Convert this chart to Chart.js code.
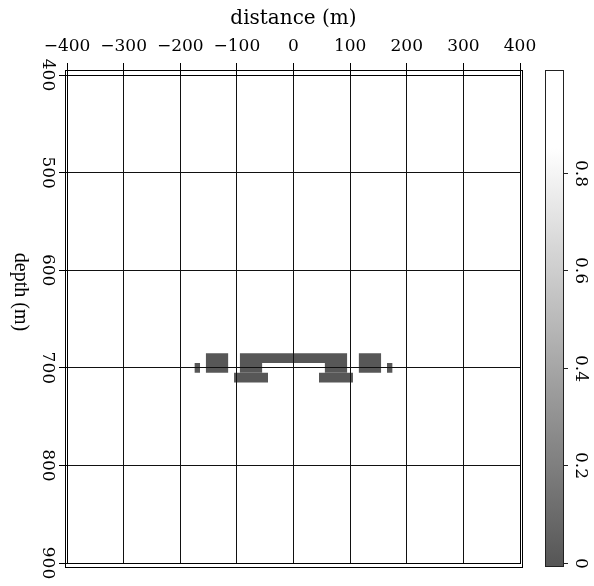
<!DOCTYPE html>
<html><head><meta charset="utf-8">
<script src="https://cdn.jsdelivr.net/npm/chart.js@4/dist/chart.umd.min.js"></script>
<style>html,body{margin:0;padding:0;background:#fff;}</style>
</head><body>
<canvas id="c" width="594" height="586"></canvas>
<script>
// ---- data ----
const distanceTicks = [-400,-300,-200,-100,0,100,200,300,400];
const depthTicks = [400,500,600,700,800,900];
const colorTicks = [0,0.2,0.4,0.6,0.8];
// anomaly blocks (distance range, depth range, value)
const blockX0     = [-175,-155,-95,-95,-105, 55, 45,115,165];
const blockX1     = [-165,-115, 95,-55, -45, 95,105,155,175];
const blockTop    = [ 695, 685,685,695, 705,695,705,685,695];
const blockBottom = [ 705, 705,695,705, 715,705,715,705,705];
const blockValue  = [   0,   0,  0,  0,   0,  0,  0,  0,  0];
const backgroundValue = 1;

const SERIF = '"DejaVu Serif", serif';
const SERIF2 = '"Liberation Serif", serif';
const LOW = [87,87,87], HIGH = [255,255,255], WHITE_AT = 0.85;
function grey(v){
  const t = Math.max(0, Math.min(1, v / WHITE_AT));
  const c = LOW.map((l,i)=>Math.round(l + (HIGH[i]-l)*t));
  return `rgb(${c[0]},${c[1]},${c[2]})`;
}

const datasets = blockX0.map((x0,i)=>({
  data:[{x:x0,y:blockTop[i]},{x:blockX1[i],y:blockTop[i]}],
  fill:{value:blockBottom[i]},
  backgroundColor:grey(blockValue[i]),
  borderWidth:0, pointRadius:0, tension:0,
  yAxisID:'y', xAxisID:'x'
}));

const minus = v => String(v).replace('-', '\u2212');

const deco = {
  id:'deco',
  afterDraw(chart){
    const {ctx, chartArea:a, scales} = chart;
    const ys = scales.y, cs = scales.yc;
    ctx.save();
    ctx.strokeStyle = '#000'; ctx.lineWidth = 1;
    // double frame
    ctx.strokeRect(Math.round(a.left)+0.5, Math.round(a.top)+0.5, Math.round(a.right-a.left), Math.round(a.bottom-a.top));
    ctx.strokeRect(Math.round(a.left)-1.5, Math.round(a.top)-4.5, Math.round(a.right-a.left)+4, Math.round(a.bottom-a.top)+9);
    // depth tick labels (rotated clockwise)
    ctx.fillStyle = '#000';
    ctx.font = '17px ' + SERIF;
    ctx.textAlign = 'center'; ctx.textBaseline = 'middle';
    ys.ticks.forEach(t=>{
      const py = ys.getPixelForValue(t.value);
      ctx.save(); ctx.translate(47, py); ctx.rotate(Math.PI/2);
      ctx.fillText(String(t.value), 0, 0); ctx.restore();
    });
    // depth title
    ctx.font = '20px ' + SERIF2;
    ctx.save(); ctx.translate(20, (a.top+a.bottom)/2 - 27); ctx.rotate(Math.PI/2);
    ctx.fillText('depth (m)', 0, 0); ctx.restore();
    // colorbar
    const cx0 = 545, cx1 = 563;
    const y0 = cs.getPixelForValue(0), y1 = cs.getPixelForValue(1);
    const g = ctx.createLinearGradient(0, y0, 0, y1);
    for (let k=0;k<=20;k++){ g.addColorStop(k/20, grey(k/20)); }
    ctx.fillStyle = g;
    ctx.fillRect(cx0, y1-5, cx1-cx0, (y0-y1)+8);
    ctx.strokeStyle = '#222';
    ctx.strokeRect(cx0+0.5, Math.round(y1)-4.5, cx1-cx0, Math.round(y0-y1)+8);
    ctx.fillStyle = '#000';
    ctx.font = '17px ' + SERIF;
    cs.ticks.forEach(t=>{
      if (t.value > 0.9) return;
      const py = Math.round(cs.getPixelForValue(t.value))+0.5;
      ctx.beginPath(); ctx.moveTo(cx1, py); ctx.lineTo(cx1+5, py); ctx.stroke();
      ctx.save(); ctx.translate(580, py); ctx.rotate(Math.PI/2);
      ctx.fillText(String(t.value), 0, 0); ctx.restore();
    });
    ctx.restore();
  }
};

new Chart(document.getElementById('c'), {
  type:'line',
  data:{datasets},
  options:{
    responsive:false, animation:false, devicePixelRatio:1,
    layout:{padding:{top:0,left:0,right:0,bottom:23}},
    plugins:{legend:{display:false}, tooltip:{enabled:false}},
    scales:{
      x:{type:'linear', position:'top', min:-400, max:400,
        afterBuildTicks(s){ s.ticks = distanceTicks.map(v=>({value:v})); },
        ticks:{callback:minus, color:'#000', font:{family:SERIF,size:17}, padding:6, maxRotation:0},
        grid:{color:'#111', lineWidth:1, tickLength:12, tickColor:'#000', z:1},
        border:{display:false},
        title:{display:true, text:'distance (m)', color:'#000', font:{family:SERIF,size:20}, padding:{top:7,bottom:0}},
        afterFit(s){ s.height = 75; }
      },
      y:{type:'linear', position:'left', reverse:true, min:400, max:900,
        afterBuildTicks(s){ s.ticks = depthTicks.map(v=>({value:v})); },
        ticks:{display:false},
        grid:{color:'#111', lineWidth:1, tickLength:8, tickColor:'#000', z:1},
        border:{display:false},
        afterFit(s){ s.width = 67; }
      },
      yc:{type:'linear', position:'right', min:0, max:1,
        afterBuildTicks(s){ s.ticks = colorTicks.map(v=>({value:v})); },
        ticks:{display:false},
        grid:{display:false, drawOnChartArea:false},
        border:{display:false},
        afterFit(s){ s.width = 74; }
      }
    }
  },
  plugins:[deco]
});
</script>
</body></html>
